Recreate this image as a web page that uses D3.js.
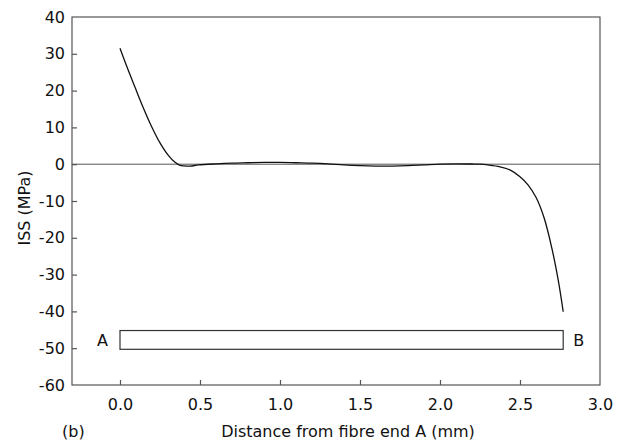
<!DOCTYPE html>
<html>
<head>
<meta charset="utf-8">
<script src="https://cdn.jsdelivr.net/npm/d3@7"></script>
<style>
  body { margin: 0; background: #fff; }
  svg { display: block; }
  text { font-family: "DejaVu Sans", sans-serif; fill: #111; }
</style>
</head>
<body>
<svg id="chart" width="621" height="443"></svg>
<script>
// ---- data ----
const distance = [0, 0.042, 0.094, 0.146, 0.198, 0.25, 0.302, 0.344, 0.375, 0.4375, 0.49,
  0.6, 0.7, 0.8, 0.9, 1.0, 1.1, 1.2, 1.3, 1.4, 1.5, 1.6, 1.7, 1.8, 1.9, 2.0, 2.1, 2.2, 2.25,
  2.3, 2.375, 2.44, 2.5, 2.55, 2.6, 2.65, 2.7, 2.74, 2.77];
const iss = [31.5, 26.6, 20.9, 15.3, 10.2, 5.8, 2.4, 0.5, -0.3, -0.5, -0.2,
  0.1, 0.3, 0.4, 0.5, 0.5, 0.4, 0.3, 0.1, -0.2, -0.4, -0.5, -0.5, -0.4, -0.2, 0, 0.1, 0.05, 0,
  -0.2, -0.7, -1.6, -3.4, -5.6, -9.0, -14.5, -23.0, -31.8, -40.1];
const xTicks = [0.0, 0.5, 1.0, 1.5, 2.0, 2.5, 3.0];
const yTicks = [40, 30, 20, 10, 0, -10, -20, -30, -40, -50, -60];
const fibre = { x0: 0, x1: 2.77, y0: -45.2, y1: -50.3 };
const endLabels = ["A", "B"];
const xTitle = "Distance from fibre end A (mm)";
const yTitle = "ISS (MPa)";
const panelLabel = "(b)";

// ---- layout ----
const svg = d3.select("#chart");
const L = 72, R = 600, T = 17, B = 385;
const x = d3.scaleLinear().domain([-0.3, 3.0]).range([L, R]);
const y = d3.scaleLinear().domain([-60, 40]).range([B, T]);
const frameColor = "#555";

// frame
svg.append("rect").attr("x", L).attr("y", T).attr("width", R - L).attr("height", B - T)
  .attr("fill", "none").attr("stroke", frameColor).attr("stroke-width", 1.2);

// axes (ticks pointing inward)
const xAxis = d3.axisBottom(x).tickValues(xTicks).tickFormat(d3.format(".1f"))
  .tickSizeInner(-5).tickSizeOuter(0).tickPadding(14);
const gx = svg.append("g").attr("transform", `translate(0,${B})`).call(xAxis);
gx.select(".domain").remove();
gx.selectAll(".tick line").attr("stroke", frameColor).attr("stroke-width", 1.2);
gx.selectAll(".tick text").attr("font-size", 16).attr("fill", "#111")
  .style("font-family", '"DejaVu Sans", sans-serif');
gx.selectAll(".tick").filter(d => d === 3.0).select("line").remove();

const yAxis = d3.axisLeft(y).tickValues(yTicks).tickFormat(d => d3.format("d")(d).replace("−", "-"))
  .tickSizeInner(-5).tickSizeOuter(0).tickPadding(7);
const gy = svg.append("g").attr("transform", `translate(${L},0)`).call(yAxis);
gy.select(".domain").remove();
gy.selectAll(".tick line").attr("stroke", frameColor).attr("stroke-width", 1.2);
gy.selectAll(".tick text").attr("font-size", 16).attr("fill", "#111")
  .style("font-family", '"DejaVu Sans", sans-serif');
gy.selectAll(".tick").filter(d => d === 40 || d === -60).select("line").remove();

// zero line
svg.append("line").attr("x1", L).attr("x2", R).attr("y1", y(0)).attr("y2", y(0))
  .attr("stroke", "#555").attr("stroke-width", 1);

// curve
const pts = distance.map((d, i) => [d, iss[i]]);
svg.append("path").datum(pts)
  .attr("d", d3.line().x(d => x(d[0])).y(d => y(d[1])).curve(d3.curveCatmullRom.alpha(0.5)))
  .attr("fill", "none").attr("stroke", "#111").attr("stroke-width", 1.3);

// fibre rectangle
svg.append("rect")
  .attr("x", x(fibre.x0)).attr("y", y(fibre.y0))
  .attr("width", x(fibre.x1) - x(fibre.x0)).attr("height", y(fibre.y1) - y(fibre.y0))
  .attr("fill", "none").attr("stroke", "#333").attr("stroke-width", 1.2);
const ym = y((fibre.y0 + fibre.y1) / 2);
svg.append("text").attr("x", x(fibre.x0) - 12).attr("y", ym).attr("dy", "0.36em")
  .attr("text-anchor", "end").attr("font-size", 16).text(endLabels[0]);
svg.append("text").attr("x", x(fibre.x1) + 10).attr("y", ym).attr("dy", "0.36em")
  .attr("text-anchor", "start").attr("font-size", 16).text(endLabels[1]);

// titles
svg.append("text").attr("x", 348).attr("y", 437).attr("text-anchor", "middle")
  .attr("font-size", 16).text(xTitle);
svg.append("text").attr("transform", `translate(30,208) rotate(-90)`)
  .attr("text-anchor", "middle").attr("font-size", 16).text(yTitle);
svg.append("text").attr("x", 62).attr("y", 437).attr("font-size", 16).text(panelLabel);
</script>
</body>
</html>
